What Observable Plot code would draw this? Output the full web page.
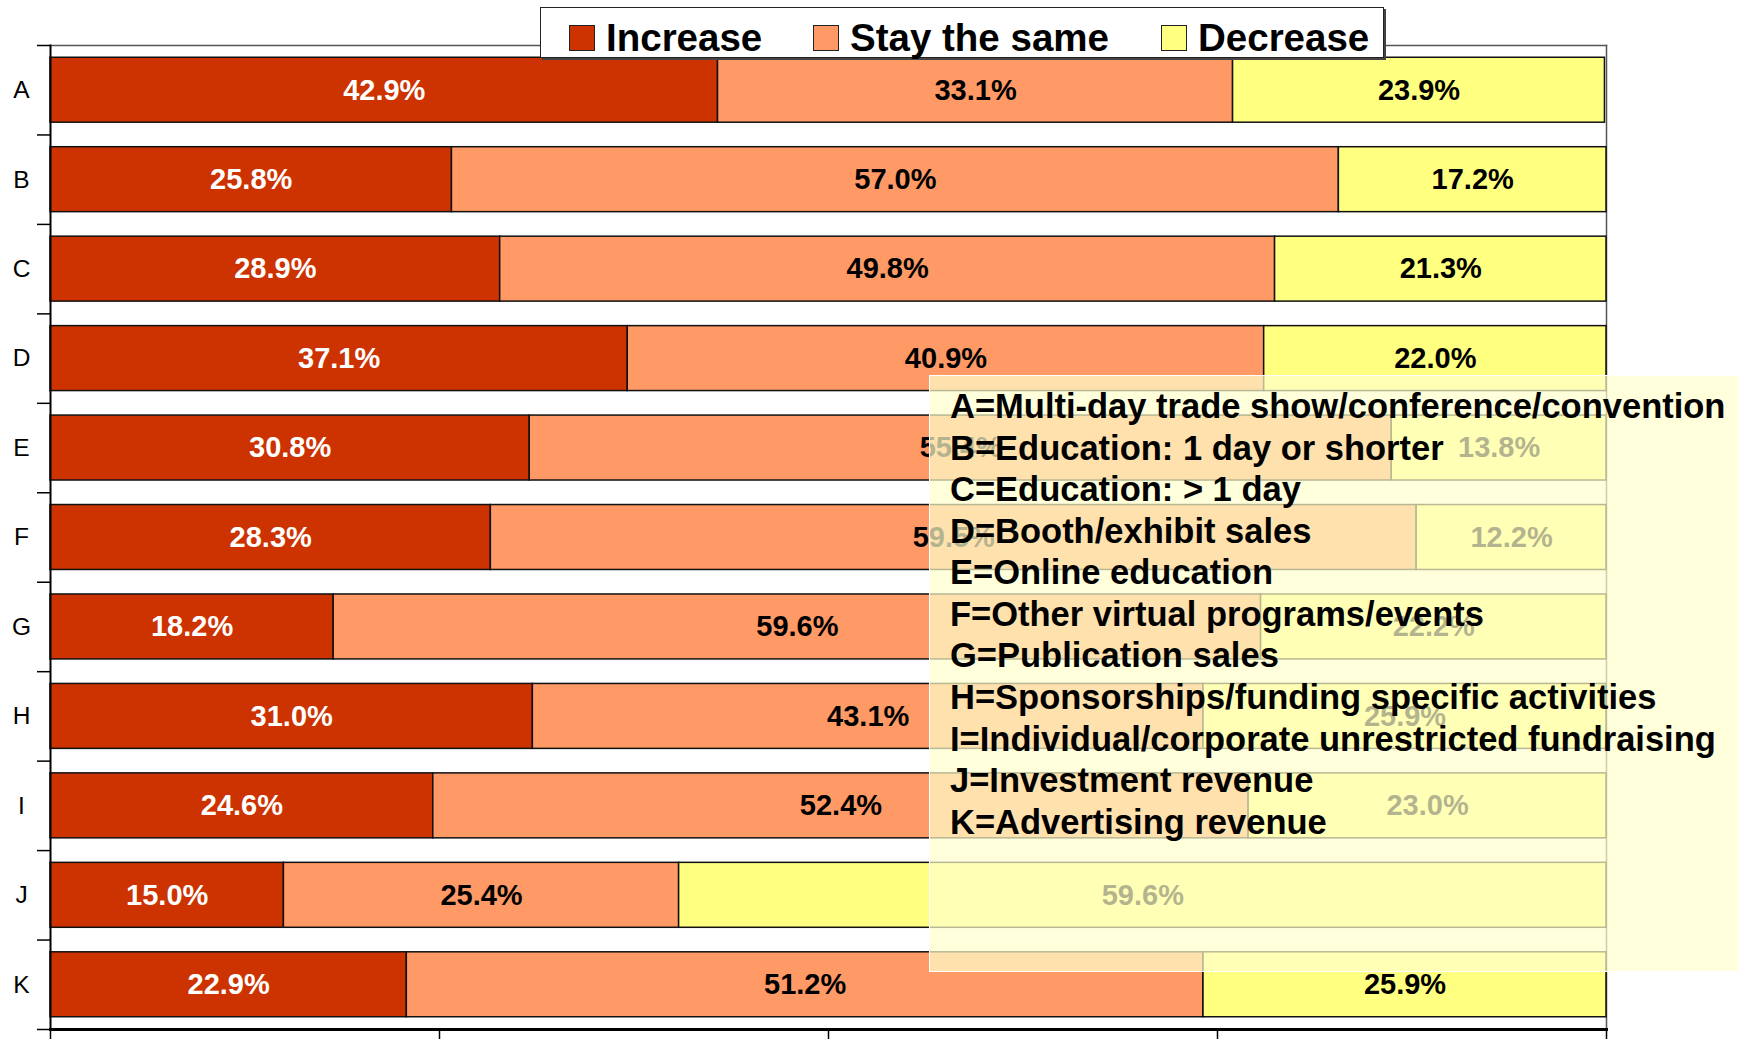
<!DOCTYPE html>
<html>
<head>
<meta charset="utf-8">
<script src="https://cdn.jsdelivr.net/npm/d3@7"></script>
<script src="https://cdn.jsdelivr.net/npm/@observablehq/plot@0.6"></script>
<style>
  html, body { margin: 0; padding: 0; background: #fff; }
  body { width: 1738px; height: 1039px; overflow: hidden; font-family: "Liberation Sans", Arial, sans-serif; }
  #wrap { position: relative; width: 1738px; height: 1039px; }
  #chart svg { display: block; }
  #legend {
    position: absolute; left: 540px; top: 7px; width: 842px; height: 49px;
    background: #fff; border: 1.5px solid #222; box-shadow: 2px 2px 0 #444;
  }
  .litem { position: absolute; top: 5px; height: 49px; display: flex; align-items: center; }
  .sw { width: 26px; height: 26px; border: 1.5px solid #222; margin-right: 11px; box-sizing: border-box; }
  .lt { font-weight: bold; font-size: 38.5px; color: #000; line-height: 49px; }
  #keybox {
    position: absolute; left: 929px; top: 375px; width: 809px; height: 597px;
    background: rgba(255,255,204,0.7); border: 1.5px solid #fff; border-right: none;
    box-sizing: border-box; padding: 10px 0 0 20px; overflow: hidden;
  }
  #keybox div { font-weight: bold; font-size: 34.5px; line-height: 41.57px; color: #000; white-space: nowrap; }
</style>
</head>
<body>
<div id="wrap">
  <div id="chart"></div>
  <div id="legend"></div>
  <div id="keybox"></div>
</div>
<script>
const categories = ["A", "B", "C", "D", "E", "F", "G", "H", "I", "J", "K"];
const seriesNames = ["Increase", "Stay the same", "Decrease"];
const increase = [42.9, 25.8, 28.9, 37.1, 30.8, 28.3, 18.2, 31.0, 24.6, 15.0, 22.9];
const stay     = [33.1, 57.0, 49.8, 40.9, 55.4, 59.5, 59.6, 43.1, 52.4, 25.4, 51.2];
const decrease = [23.9, 17.2, 21.3, 22.0, 13.8, 12.2, 22.2, 25.9, 23.0, 59.6, 25.9];
const seriesColors = ["#CC3300", "#FF9966", "#FFFF80"];
const labelColors = ["#FFFFFF", "#000000", "#000000"];
const xTicks = [0, 25, 50, 75, 100];
const descriptions = [
  "A=Multi-day trade show/conference/convention",
  "B=Education: 1 day or shorter",
  "C=Education: > 1 day",
  "D=Booth/exhibit sales",
  "E=Online education",
  "F=Other virtual programs/events",
  "G=Publication sales",
  "H=Sponsorships/funding specific activities",
  "I=Individual/corporate unrestricted fundraising",
  "J=Investment revenue",
  "K=Advertising revenue"
];

const seriesValues = [increase, stay, decrease];
const data = [];
categories.forEach((c, i) => {
  seriesNames.forEach((s, j) => {
    data.push({cat: c, series: s, value: seriesValues[j][i], labelColor: labelColors[j]});
  });
});

const W = 1738, H = 1039;
const mTop = 45, mBottom = 10, mLeft = 50, mRight = 132;
const step = (H - mTop - mBottom) / categories.length;

const chart = Plot.plot({
  width: W,
  height: H,
  marginTop: mTop,
  marginBottom: mBottom,
  marginLeft: mLeft,
  marginRight: mRight,
  style: {fontFamily: "'Liberation Sans', Arial, sans-serif", background: "transparent", overflow: "visible"},
  x: {domain: [0, 100], axis: null, label: null},
  y: {domain: categories, paddingInner: 0.274, paddingOuter: 0.137, round: false, axis: null, label: null},
  color: {domain: seriesNames, range: seriesColors},
  marks: [
    Plot.frame({anchor: "top", stroke: "#555", strokeWidth: 1.5}),
    Plot.frame({anchor: "right", stroke: "#555", strokeWidth: 1.5}),
    Plot.barX(data, Plot.stackX({x: "value", y: "cat", fill: "series", stroke: "#111", strokeWidth: 1.5})),
    Plot.text(data, Plot.stackX({
      x: "value", y: "cat",
      text: d => d.value.toFixed(1) + "%",
      fill: "labelColor",
      fontSize: 29, fontWeight: "bold"
    })),
    Plot.axisY({ticks: categories, tickSize: 0, tickPadding: 29, textAnchor: "middle", fontSize: 24.5, fill: "#000", label: null}),
    Plot.axisY({ticks: categories, tickSize: 13, tickFormat: () => "", dy: -step / 2, stroke: "#000", strokeWidth: 1.5, label: null}),
    Plot.axisY({ticks: ["K"], tickSize: 13, tickFormat: () => "", dy: step / 2, stroke: "#000", strokeWidth: 1.5, label: null}),
    Plot.axisX({ticks: xTicks, tickSize: 12, tickFormat: () => "", stroke: "#000", strokeWidth: 1.5, label: null}),
    Plot.frame({anchor: "left", stroke: "#000", strokeWidth: 2}),
    Plot.frame({anchor: "bottom", stroke: "#000", strokeWidth: 3})
  ]
});
document.getElementById("chart").appendChild(chart);

// Legend
const legend = document.getElementById("legend");
const legendLefts = [28, 272, 620];
seriesNames.forEach((s, i) => {
  const item = document.createElement("div");
  item.className = "litem";
  item.style.left = legendLefts[i] + "px";
  const sw = document.createElement("div");
  sw.className = "sw";
  sw.style.background = seriesColors[i];
  const t = document.createElement("span");
  t.className = "lt";
  t.textContent = s;
  item.appendChild(sw);
  item.appendChild(t);
  legend.appendChild(item);
});

// Category key box
const key = document.getElementById("keybox");
descriptions.forEach(d => {
  const line = document.createElement("div");
  line.textContent = d;
  key.appendChild(line);
});
</script>
</body>
</html>
